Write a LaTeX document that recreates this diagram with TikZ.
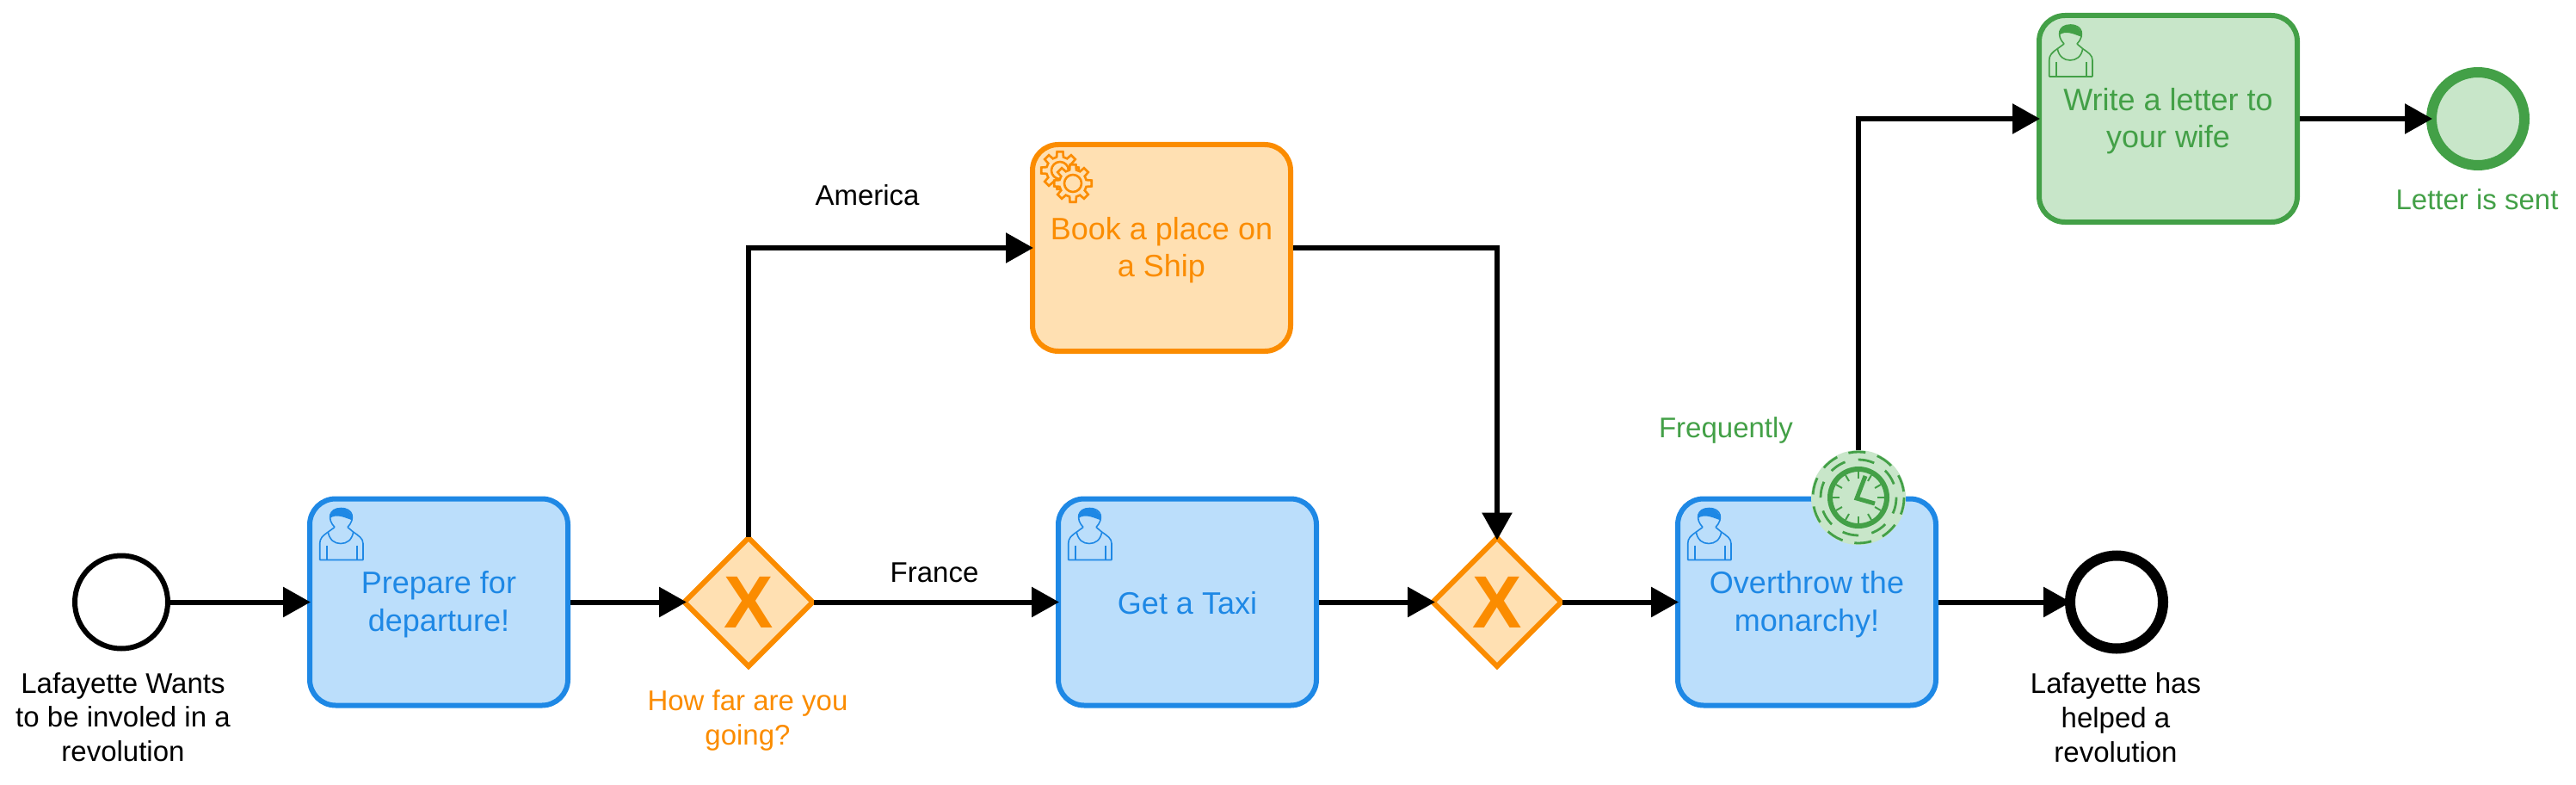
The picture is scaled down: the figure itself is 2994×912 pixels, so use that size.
\documentclass[tikz,border=0pt]{standalone}
\usepackage{xcolor}
\usepackage{fontspec}
\setmainfont{Liberation Sans}
\usetikzlibrary{arrows.meta}
\usetikzlibrary{shapes.geometric}
\definecolor{blueline}{HTML}{1E88E5}
\definecolor{bluefill}{HTML}{BBDEFB}
\definecolor{orangeline}{HTML}{FB8C00}
\definecolor{orangefill}{HTML}{FFE0B2}
\definecolor{greenline}{HTML}{43A047}
\definecolor{greenfill}{HTML}{C8E6C9}
\tikzset{
	task/.style={
		draw,
		line width=6,
		rounded corners=30,
		minimum width=300,
		minimum height=240,
		inner sep=0,
		align=center,
		font=\fontsize{36pt}{43.2pt}\selectfont,
		execute at begin node={\rule{0pt}{35pt}},
		execute at end node={\rule[-8pt]{0pt}{8pt}}
	},
	twolines/.style={execute at begin node={\rule{0pt}{75pt}}},
	bluetask/.style={task,draw=blueline,fill=bluefill,text=blueline},
	orangetask/.style={task,draw=orangeline,fill=orangefill,text=orangeline},
	greentask/.style={task,draw=greenline,fill=greenfill,text=greenline},
	gateway/.style={
		draw=orangeline,
		fill=orangefill,
		text=orangeline,
		diamond,
		aspect=1,
		line width=6,
		outer sep=1,
		minimum size=150,
		inner sep=0,
		font=\fontsize{86pt}{86pt}\selectfont\bfseries
	},
	event/.style={
		draw=black,
		fill=white,
		circle,
		line width=6,
		outer sep=3,
		minimum size=108,
		inner sep=0
	},
	lbl/.style={
		inner sep=0,
		align=center,
		font=\fontsize{33pt}{39.6pt}\selectfont,
		execute at begin node={\rule{0pt}{26pt}},
		execute at end node={\rule[-6pt]{0pt}{6pt}}
	},
	flow/.style={
		draw=black,
		line width=6,
		shorten >=-4pt,
		-{Triangle[length=32pt,width=34pt]}
	},
	usermark/.pic={
		\draw[line width=1.6] (14.7,74) -- (14.7,55) .. controls (14.7,49) and (18,46) .. (24.3,41.6) (65,74) -- (65,55) .. controls (65,49) and (60,46) .. (53.7,41.6) (14.7,74) -- (65,74);
		\draw[line width=1.6] (24.3,41.6) .. controls (26,51) and (32,55) .. (39,55) .. controls (46,55) and (52,51) .. (53.7,41.6);
		\draw[line width=1.6] (22.7,57) -- (22.7,74) (57.7,57) -- (57.7,74);
		\draw[line width=1.6] (32,36) .. controls (23,27) and (25,14) .. (39.3,14) .. controls (54,14) and (56,27) .. (47,36) (32,36) -- (24.3,41.6) (47,36) -- (53.7,41.6);
		\fill (26,26) .. controls (26,18) and (32,14) .. (39.3,14) .. controls (47,14) and (53,20) .. (53,28) .. controls (46,26) and (34,19) .. (26,26) -- cycle;
	},
	gearmark/.pic={
		\draw[line width=2.6,fill=orangefill] (-14:16) \foreach \a in {0,45,...,315} { -- (\a-14:16) -- (\a-9:22) -- (\a+9:22) -- (\a+14:16)} -- cycle;
		\draw[line width=2.6] (0,0) circle (10);
	},
	clockmark/.pic={
		\draw[line width=2.8,dash pattern=on 20 off 14] (0,0) circle (53);
		\draw[line width=2.8,dash pattern=on 19 off 15.5] (0,0) circle (44);
		\draw[line width=6] (0,0) circle (33);
		\foreach \a in {0,30,...,330} {
			\draw[line width=2] (\a:22) -- (\a:30);
		}
		\draw[line width=5] (8,-25) -- (-2,1) -- (19,7);
	}
}
\begin{document}
\begin{tikzpicture}[x=1pt,y=-1pt]
	\useasboundingbox (0,0) rectangle (2994,912);
	
	% events and tasks
	\node [event] (start) at (141,699.5) {};
	\node [bluetask,twolines] (prepare) at (510,699.5) {Prepare for\\departure!};
	\node [gateway] (split) at (870,699.5) {X};
	\node [orangetask,twolines] (ship) at (1350,288) {Book a place on\\a Ship};
	\node [bluetask] (taxi) at (1380,699.5) {Get a Taxi};
	\node [gateway] (join) at (1740,699.5) {X};
	\node [bluetask,twolines] (monarchy) at (2100,699.5) {Overthrow the\\monarchy!};
	\node [event,line width=12] (helped) at (2460,699.5) {};
	\node [greentask,twolines] (letter) at (2520,138) {Write a letter to\\your wife};
	\node [event,draw=greenline,fill=greenfill,line width=12] (sent) at (2880,138) {};
	\node [circle,fill=greenfill,minimum size=110,inner sep=0] (timer) at (2160,578) {};
	
	% marks in the corners
	\pic [color=blueline] at (prepare.north west) {usermark};
	\pic [color=blueline] at (taxi.north west) {usermark};
	\pic [color=blueline] at (monarchy.north west) {usermark};
	\pic [color=greenline] at (letter.north west) {usermark};
	\pic [color=orangeline] at ([shift={(35,33)}]ship.north west) {gearmark};
	\pic [color=orangeline] at ([shift={(50,48)}]ship.north west) {gearmark};
	\pic [color=greenline] at (timer.center) {clockmark};
	
	% sequence flows
	\draw [flow] (start) -- (prepare);
	\draw [flow] (prepare) -- (split);
	\draw [flow] (split) -- (taxi);
	\draw [flow] (taxi) -- (join);
	\draw [flow] (join) -- (monarchy);
	\draw [flow] (monarchy) -- (helped);
	\draw [flow] (split.north) |- (ship.west);
	\draw [flow] (ship.east) -| (join.north);
	\draw [flow] (timer.north) |- (letter.west);
	\draw [flow] (letter) -- (sent);
	
	% labels
	\node [lbl] (startlabel) at (143,836) {Lafayette Wants\\to be involed in a\\revolution};
	\node [lbl,text=orangeline] (splitlabel) at (869,837) {How far are you\\going?};
	\node [lbl] (america) at (1008,228) {America};
	\node [lbl] (france) at (1086,666) {France};
	\node [lbl,text=greenline] (timerlabel) at (2006,499) {Frequently};
	\node [lbl] (helpedlabel) at (2459,836.5) {Lafayette has\\helped a\\revolution};
	\node [lbl,text=greenline] (sentlabel) at (2879,233) {Letter is sent};
\end{tikzpicture}
\end{document}
